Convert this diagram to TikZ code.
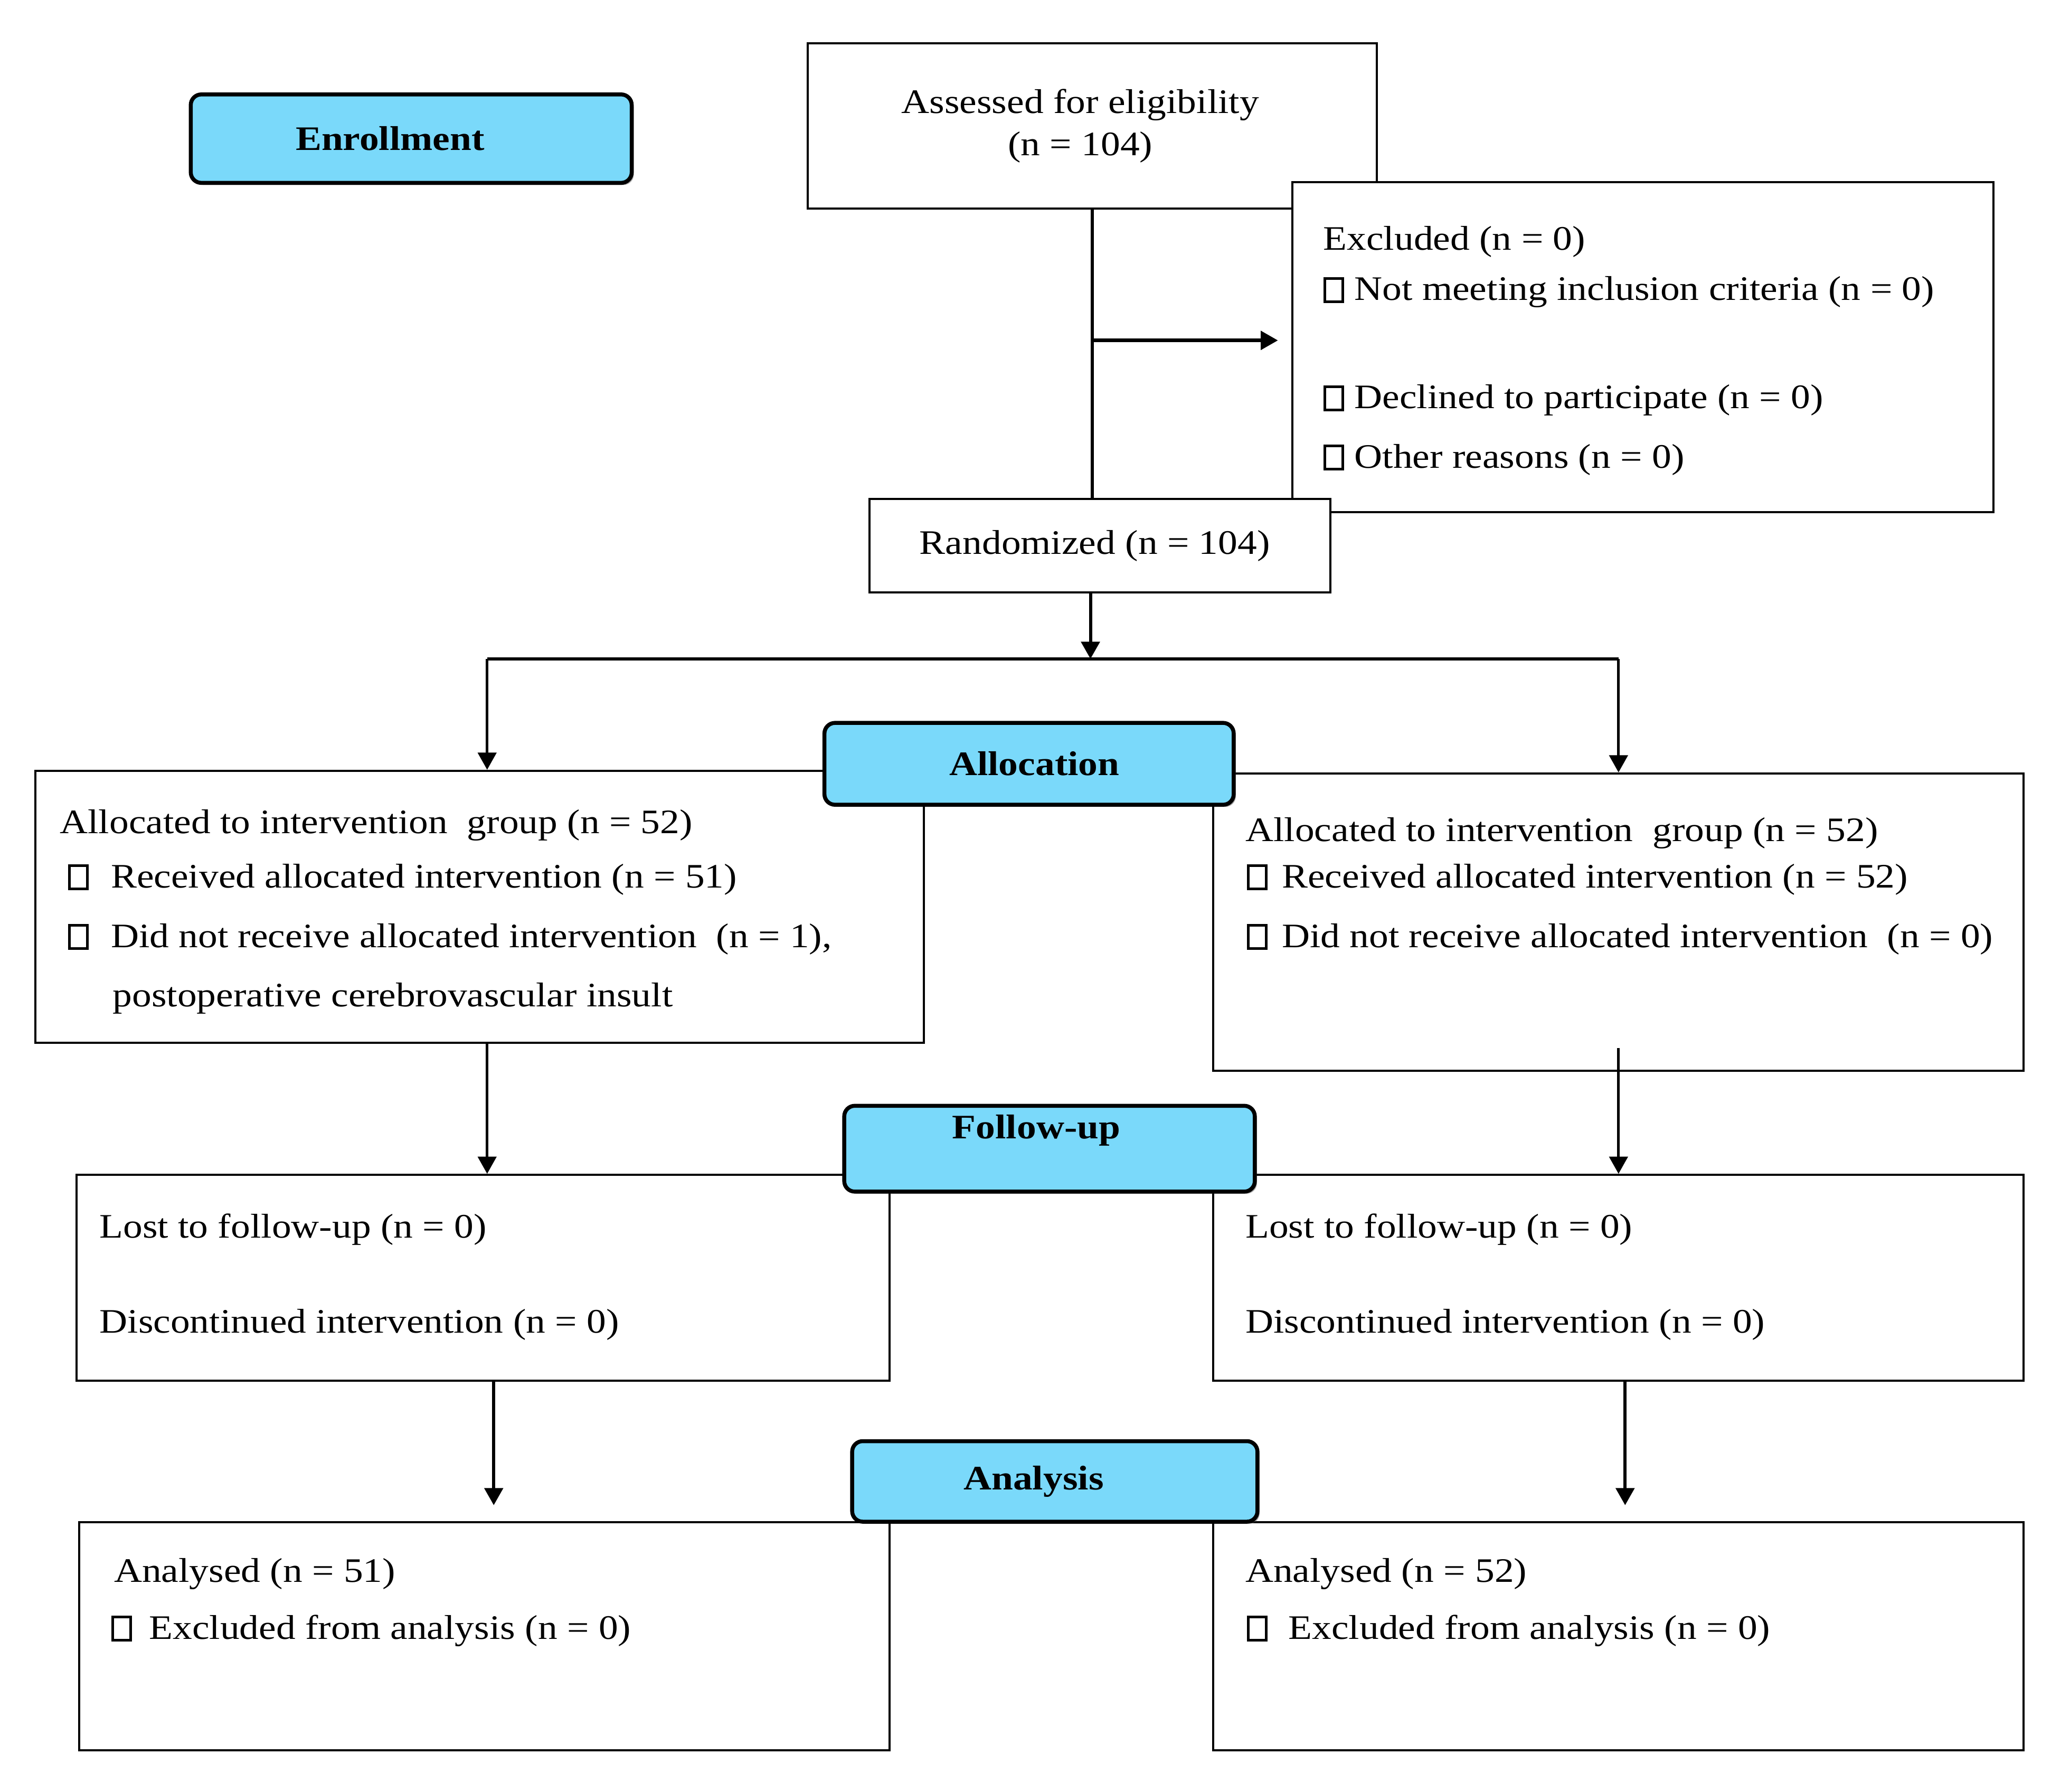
\documentclass[tikz,border=0pt]{standalone}
\usepackage{fontspec}
\setmainfont{Liberation Serif}[FakeStretch=1.13]
\usetikzlibrary{arrows.meta,shadows}

\definecolor{headblue}{RGB}{122,217,250}
\newcommand{\chk}{{\setlength{\fboxrule}{1pt}\setlength{\fboxsep}{0pt}\fbox{\rule{0pt}{7.8pt}\hspace{5.8pt}}}}
\newcommand{\topstrut}{\rule{0pt}{10pt}}

\begin{document}
\begin{tikzpicture}[x=0.5pt,y=-0.5pt,
  box/.style={draw=black,fill=white,line width=0.8pt,inner sep=0pt,anchor=north west},
  head/.style={draw=black,fill=headblue,line width=1.5pt,rounded corners=4pt,inner sep=0pt,
    anchor=north west,font=\fontsize{13}{16}\selectfont\bfseries,
    drop shadow={shadow xshift=0.8pt,shadow yshift=-0.8pt,fill=black!70}},
  txt/.style={inner sep=0pt,anchor=north west,align=left,font=\fontsize{13}{19}\selectfont},
  flow/.style={line width=1pt,-{Triangle[width=7pt,length=6.5pt]}}]
\useasboundingbox (0,0) rectangle (1568,1357);

% enrollment
\node[head,minimum width=167pt,minimum height=33.5pt] (enrol) at (143,70) {Enrollment\hspace*{16pt}};
\node[box,minimum width=215.5pt,minimum height=62.5pt,align=center,
  font=\fontsize{13}{16}\selectfont] (assess) at (611,32)
  {Assessed for eligibility\hspace*{9pt}\\(n = 104)\hspace*{9pt}};
\node[box,minimum width=265.5pt,minimum height=125pt] (excl) at (978,137) {};
\node[txt] (excl-t) at (1002,169) {\topstrut Excluded (n = 0)\\
  \chk\hspace{4pt}Not meeting inclusion criteria (n = 0)\\[22pt]
  \chk\hspace{4pt}Declined to participate (n = 0)\\[3.5pt]
  \chk\hspace{4pt}Other reasons (n = 0)};
\node[box,minimum width=174.5pt,minimum height=35.5pt,font=\fontsize{13}{16}\selectfont]
  (rand) at (658,377) {Randomized (n = 104)\hspace*{4pt}};

\coordinate (exclin) at ([yshift=2.5pt]excl.west);
\draw[line width=1.3pt] (assess.south) -- (assess.south |- rand.north);
\draw[flow,line width=1.3pt,shorten >=5pt] (assess.south |- exclin) -- (exclin);

% allocation
\coordinate (split) at (826,499);
\coordinate (lsplit) at (369,499);
\coordinate (rsplit) at (1226,499);
\draw[flow,line width=1.2pt] (rand.south -| split) -- (split);
\draw[line width=1.2pt] (lsplit) -- (rsplit);

\node[box,minimum width=336.5pt,minimum height=103pt] (allocL) at (26,583) {};
\node[txt] (allocL-t) at (45,611) {\topstrut Allocated to intervention\ \ group (n = 52)\\[1.5pt]
  \hspace*{3pt}\chk\hspace{8.5pt}Received allocated intervention (n = 51)\\[3.5pt]
  \hspace*{3pt}\chk\hspace{8.5pt}Did not receive allocated intervention\ \ (n = 1),\\[3.5pt]
  \hspace*{20pt}postoperative cerebrovascular insult};
\node[box,minimum width=307pt,minimum height=112.5pt] (allocR) at (918,585) {};
\node[txt] (allocR-t) at (943,617) {\topstrut Allocated to intervention\ \ group (n = 52)\\[-1.5pt]
  \hspace*{0.5pt}\chk\hspace{5.5pt}Received allocated intervention (n = 52)\\[3.5pt]
  \hspace*{0.5pt}\chk\hspace{5.5pt}Did not receive allocated intervention\ \ (n = 0)};
\node[head,minimum width=155pt,minimum height=31pt] (allochead) at (623,546) {\hspace*{4pt}Allocation};

\draw[flow] (lsplit) -- (lsplit |- allocL.north);
\draw[flow] (rsplit) -- (rsplit |- allocR.north);

% follow-up
\node[box,minimum width=308pt,minimum height=78pt] (followL) at (57,889) {};
\node[txt] (followL-t) at (75,917) {\topstrut Lost to follow-up (n = 0)\\[17pt]
  Discontinued intervention (n = 0)};
\node[box,minimum width=307pt,minimum height=78pt] (followR) at (918,889) {};
\node[txt] (followR-t) at (943,917) {\topstrut Lost to follow-up (n = 0)\\[17pt]
  Discontinued intervention (n = 0)};
\node[head,minimum width=155.5pt,minimum height=32.5pt,text height=9pt,text depth=16.5pt]
  (followhead) at (638,836) {Follow-up\hspace*{10pt}};

\draw[flow] (allocL.south -| lsplit) -- (lsplit |- followL.north);
\draw[flow,shorten <=-9pt] (allocR.south -| rsplit) -- (rsplit |- followR.north);

% analysis
\node[box,minimum width=307pt,minimum height=86.5pt] (anaL) at (59,1152) {};
\node[txt] (anaL-t) at (84,1178) {\topstrut\hspace*{1pt}Analysed (n = 51)\\[2.5pt]
  \chk\hspace{6.5pt}Excluded from analysis (n = 0)};
\node[box,minimum width=307pt,minimum height=86.5pt] (anaR) at (918,1152) {};
\node[txt] (anaR-t) at (943,1178) {\topstrut Analysed (n = 52)\\[2.5pt]
  \hspace*{0.5pt}\chk\hspace{8pt}Excluded from analysis (n = 0)};
\node[head,minimum width=153.5pt,minimum height=30.5pt] (anahead) at (644,1090) {Analysis\hspace*{16pt}};

\coordinate (lana) at (374,1045);
\coordinate (rana) at (1231,1045);
\draw[flow,line width=1.2pt,shorten >=6pt] (lana) -- (lana |- anaL.north);
\draw[flow,line width=1.2pt,shorten >=6pt] (rana) -- (rana |- anaR.north);
\end{tikzpicture}
\end{document}
